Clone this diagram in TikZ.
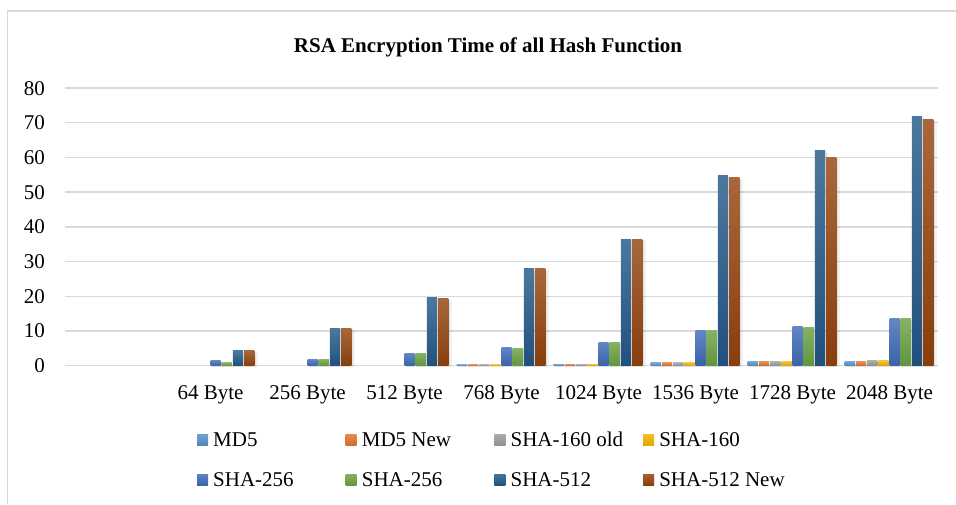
\documentclass[tikz,border=0pt]{standalone}
\usepackage{fontspec}
\setmainfont{Liberation Serif}
\definecolor{ser0}{HTML}{5B9BD5}
\definecolor{ser1}{HTML}{ED7D31}
\definecolor{ser2}{HTML}{A5A5A5}
\definecolor{ser3}{HTML}{FFC000}
\definecolor{ser4}{HTML}{4472C4}
\definecolor{ser5}{HTML}{70AD47}
\definecolor{ser6}{HTML}{255E91}
\definecolor{ser7}{HTML}{9E480E}
\definecolor{gridgray}{HTML}{D9D9D9}
\definecolor{softgray}{HTML}{C4C4C4}
\tikzset{
  framestyle/.style={draw=gridgray, line width=1.5pt},
  gridstyle/.style={draw=gridgray, line width=1.5pt},
  lbl/.style={inner sep=0pt, text=black},
}
\begin{document}
\begin{tikzpicture}[x=1pt,y=-1pt,font=\fontsize{21}{25}\selectfont]
\useasboundingbox (0,0) rectangle (956,504);
\fill[white] (0,0) rectangle (956,504);
\draw[framestyle] (7.5,504) -- (7.5,11) -- (956,11);
% title
\node[lbl, anchor=base, font=\fontsize{21}{25}\selectfont\bfseries] (title) at (488,52) {RSA Encryption Time of all Hash Function};
% grid and y labels
\foreach \v in {0,...,8}{
  \pgfmathsetmacro\gy{365.7-\v*34.71}
  \draw[gridstyle] (65,\gy) -- (938,\gy);
  \pgfmathtruncatemacro\lab{\v*10}
  \node[lbl, anchor=base east] (y\v) at (45,\gy+7) {\lab};
}
% bars
\foreach \c/\vals/\name in {
  2/{0,0,0,0,1.6,0.8,4.3,4.3}/64 Byte,
  3/{0,0,0,0,1.9,1.9,10.8,10.8}/256 Byte,
  4/{0,0,0,0,3.6,3.6,19.6,19.3}/512 Byte,
  5/{0.4,0.4,0.4,0.4,5.3,5.0,28.0,28.0}/768 Byte,
  6/{0.5,0.5,0.5,0.5,6.8,6.8,36.5,36.5}/1024 Byte,
  7/{0.85,0.85,0.85,0.85,10.2,10.0,54.7,54.1}/1536 Byte,
  8/{1.15,1.15,1.15,1.15,11.4,11.1,61.9,60.1}/1728 Byte,
  9/{1.15,1.15,1.45,1.45,13.5,13.5,71.7,70.8}/2048 Byte}{
  \pgfmathsetmacro\cx{65+(\c-1)*97+48.5}
  \node[lbl, anchor=base] (cat\c) at (\cx,399) {\name};
  \foreach \v [count=\i from 0] in \vals {
    \pgfmathparse{\v>0?1:0}
    \ifnum\pgfmathresult=1
      \pgfmathsetmacro\xa{\cx-44.8+\i*11.2}
      \pgfmathsetmacro\ya{365.7-\v*3.471}
      \fill[black, opacity=0.05] (\xa+0.5,367) rectangle (\xa+13.5,\ya+1);
      \fill[black, opacity=0.07] (\xa+1.5,366.5) rectangle (\xa+12.2,\ya+2);
      \shade[top color=ser\i!75!softgray, middle color=ser\i, bottom color=ser\i!86!black] (\xa,365.7) rectangle (\xa+10.2,\ya);
    \fi
  }
}
% legend
\foreach \name [count=\i from 0] in {MD5,MD5 New,SHA-160 old,SHA-160,SHA-256,SHA-256,SHA-512,SHA-512 New}{
  \pgfmathsetmacro\lx{197+mod(\i,4)*148.7}
  \pgfmathsetmacro\ly{439.5+int(\i/4)*40}
  \shade[top color=ser\i!80!softgray, middle color=ser\i, bottom color=ser\i!88!black] (\lx,\ly-5.5) rectangle (\lx+11,\ly+5.5);
  \node[lbl, anchor=base west] (leg\i) at (\lx+16,\ly+7) {\name};
}
\end{tikzpicture}
\end{document}
